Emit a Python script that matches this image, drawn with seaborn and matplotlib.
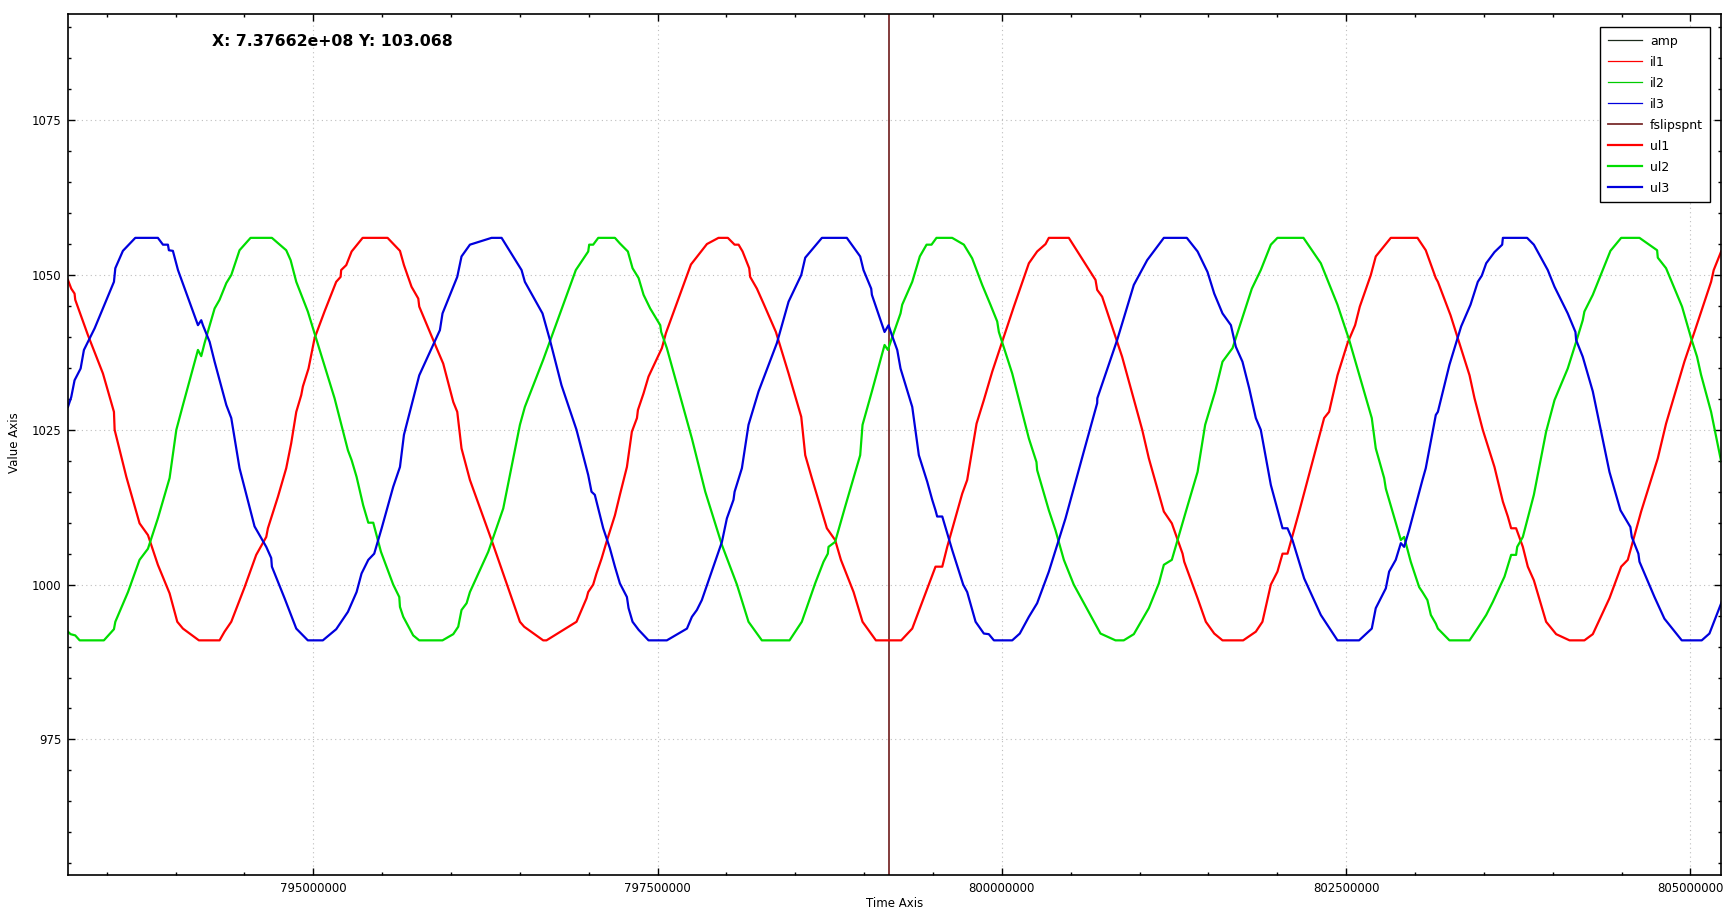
import numpy as np
import matplotlib
matplotlib.use("Agg")
import matplotlib.pyplot as plt
from matplotlib import font_manager
from matplotlib.ticker import MultipleLocator, StrMethodFormatter
import seaborn as sns

# time values are in millions of axis units
ul1_t = np.array([
    793.218, 793.242, 793.266, 793.271, 793.363, 793.472, 793.552, 793.557, 793.642, 793.738,
    793.799, 793.823, 793.871, 793.956, 794.012, 794.053, 794.169, 794.319, 794.355, 794.404,
    794.501, 794.585, 794.658, 794.670, 794.743, 794.803, 794.839, 794.876, 794.912, 794.924,
    794.965, 795.009, 795.081, 795.166, 795.198, 795.202, 795.239,
    795.278, 795.358, 795.539, 795.629, 795.658, 795.713, 795.762, 795.769, 795.895, 795.943,
    796.016, 796.045, 796.076, 796.137, 796.294, 796.500, 796.531, 796.669, 796.693, 796.911,
    796.984, 796.996, 797.032, 797.056, 797.093, 797.129, 797.190, 797.226,
    797.277, 797.313, 797.350, 797.357, 797.398, 797.434, 797.531, 797.560, 797.652, 797.742,
    797.858, 797.942, 798.010, 798.059, 798.088, 798.117, 798.165, 798.172, 798.221, 798.269,
    798.359, 798.451, 798.543, 798.572, 798.620, 798.729, 798.789, 798.831, 798.923, 798.988,
    799.085, 799.201,
    799.269, 799.349, 799.518, 799.567, 799.603, 799.712, 799.748, 799.816, 799.869, 799.930,
    799.990, 800.087, 800.196, 800.256, 800.317, 800.341, 800.486, 800.680, 800.692, 800.728,
    800.873, 801.019, 801.067, 801.176,
    801.234, 801.312, 801.324, 801.421, 801.481, 801.542, 801.602, 801.752, 801.844, 801.892,
    801.953, 802.001, 802.038, 802.074, 802.159, 802.340, 802.376, 802.437, 802.510, 802.565,
    802.599, 802.679, 802.715, 802.824, 803.018, 803.078, 803.151,
    803.166, 803.258, 803.396, 803.432, 803.492, 803.577, 803.638, 803.674, 803.698, 803.734,
    803.783, 803.819, 803.863, 803.952, 804.025, 804.122, 804.230, 804.291, 804.412, 804.497,
    804.545, 804.642, 804.763, 804.823, 804.956, 805.029, 805.150, 805.169, 805.223,
])
ul1_v = np.array([
    1049.2, 1047.8, 1047.0, 1046.0, 1040.3, 1034.1, 1027.9, 1025.0, 1017.4, 1009.9,
    1008.0, 1006.4, 1003.2, 998.6, 994.0, 992.9, 991.0, 991.0, 992.4, 994.0,
    999.6, 1004.8, 1007.7, 1009.1, 1014.2, 1018.8, 1022.8, 1027.9, 1030.6, 1032.0,
    1034.9, 1039.8, 1044.1, 1048.9, 1049.7, 1050.8, 1051.6,
    1053.8, 1056.0, 1056.0, 1053.9, 1051.6, 1048.1, 1046.2, 1044.9, 1038.2, 1035.7,
    1029.5, 1027.9, 1022.0, 1016.9, 1007.2, 994.0, 993.2, 991.0, 991.0, 994.0,
    997.8, 998.8, 1000.0, 1001.8, 1004.2, 1006.9, 1011.2, 1014.5,
    1019.0, 1024.7, 1026.9, 1028.2, 1030.9, 1033.6, 1038.2, 1040.6, 1046.2, 1051.7,
    1055.0, 1056.0, 1056.0, 1054.9, 1054.9, 1053.8, 1051.1, 1049.7, 1047.8, 1045.4,
    1040.8, 1034.1, 1027.1, 1020.9, 1017.2, 1009.1, 1007.2, 1004.0, 998.8, 994.0,
    991.0, 991.0,
    991.0, 992.9, 1002.9, 1002.9, 1006.1, 1014.7, 1016.9, 1026.0, 1029.8, 1034.4,
    1038.4, 1044.9, 1051.9, 1053.8, 1055.0, 1056.0, 1056.0, 1049.2, 1047.6, 1046.5,
    1036.8, 1025.0, 1020.4, 1011.8,
    1009.9, 1005.0, 1003.7, 997.8, 994.0, 992.1, 991.0, 991.0, 992.4, 994.0,
    1000.0, 1002.1, 1005.0, 1005.0, 1011.8, 1026.9, 1027.9, 1033.8, 1039.0, 1041.9,
    1044.9, 1050.0, 1053.0, 1056.0, 1056.0, 1054.0, 1049.5,
    1048.9, 1043.5, 1033.8, 1030.1, 1025.0, 1019.0, 1013.4, 1011.0, 1009.1, 1009.1,
    1006.1, 1002.9, 1000.7, 994.0, 992.0, 991.0, 991.0, 992.0, 997.8, 1002.9,
    1004.0, 1011.8, 1020.4, 1026.0, 1036.0, 1040.8, 1048.9, 1050.8, 1053.8,
])

ul2_t = np.array([
    793.218, 793.237, 793.271, 793.303, 793.479, 793.552, 793.562, 793.654, 793.738, 793.799,
    793.871, 793.956, 794.005, 794.053, 794.162, 794.186, 794.210, 794.283, 794.319, 794.368,
    794.404, 794.464, 794.544, 794.699, 794.803, 794.835, 794.876, 794.960, 795.057, 795.154,
    795.198, 795.251,
    795.278, 795.314, 795.362, 795.399, 795.435, 795.491, 795.580, 795.624, 795.629, 795.653,
    795.725, 795.769, 795.938, 796.016, 796.052, 796.076, 796.113, 796.137, 796.270, 796.379,
    796.500, 796.536, 796.669, 796.906, 796.996, 797.003, 797.032, 797.069, 797.190, 797.226,
    797.284, 797.318, 797.362, 797.398, 797.446, 797.519, 797.526, 797.567, 797.749, 797.846,
    797.967, 798.076, 798.160, 798.257, 798.458, 798.547, 798.644, 798.705, 798.736, 798.741,
    798.789, 798.862, 798.971, 798.988, 799.056, 799.148, 799.172, 799.201,
    799.264, 799.276, 799.349, 799.404, 799.453, 799.489, 799.525, 799.639, 799.724, 799.784,
    799.857, 799.917, 799.966, 799.978, 800.075, 800.196, 800.251, 800.256, 800.341, 800.389,
    800.450, 800.522, 800.716, 800.825, 800.885, 800.958, 801.067, 801.140, 801.176,
    801.234, 801.336, 801.421, 801.476, 801.549, 801.602, 801.675, 801.815, 801.880, 801.953,
    802.001, 802.190, 802.316, 802.437, 802.522, 802.686, 802.715, 802.776, 802.788, 802.897,
    802.921, 802.969, 803.030, 803.054, 803.090, 803.115, 803.151,
    803.166, 803.250, 803.396, 803.456, 803.517, 803.565, 803.650, 803.698, 803.734, 803.742,
    803.783, 803.863, 803.952, 804.013, 804.109, 804.170, 804.218, 804.230, 804.291, 804.419,
    804.497, 804.630, 804.758, 804.763, 804.823, 804.939, 805.005, 805.048, 805.077, 805.150,
    805.223,
])
ul2_v = np.array([
    992.4, 992.0, 991.8, 991.0, 991.0, 992.8, 994.0, 998.8, 1004.0, 1005.8,
    1010.7, 1017.2, 1025.0, 1029.0, 1037.9, 1036.9, 1039.0, 1044.6, 1046.0, 1048.7,
    1050.0, 1054.0, 1056.0, 1056.0, 1054.0, 1052.4, 1048.9, 1044.1, 1037.1, 1030.1,
    1026.3, 1021.7,
    1020.1, 1017.4, 1012.8, 1010.0, 1010.0, 1005.3, 1000.0, 998.0, 996.4, 994.8,
    991.8, 991.0, 991.0, 992.0, 993.2, 995.9, 997.0, 998.8, 1005.3, 1012.3,
    1025.8, 1028.7, 1036.3, 1050.8, 1053.8, 1054.9, 1054.9, 1056.0, 1056.0, 1055.1,
    1053.8, 1051.1, 1049.5, 1046.8, 1044.6, 1041.9, 1040.8, 1038.2, 1023.6, 1015.0,
    1006.4, 1000.0, 994.0, 991.0, 991.0, 994.0, 1000.2, 1003.7, 1005.0, 1006.1,
    1006.9, 1012.6, 1020.9, 1025.8, 1031.2, 1038.7, 1037.9, 1039.8,
    1043.8, 1045.2, 1048.9, 1053.0, 1054.9, 1054.9, 1056.0, 1056.0, 1054.9, 1052.7,
    1048.4, 1045.2, 1042.5, 1040.8, 1034.1, 1023.6, 1019.8, 1018.5, 1012.0, 1008.8,
    1004.0, 1000.0, 992.1, 991.0, 991.0, 992.0, 996.2, 1000.2, 1003.2,
    1004.0, 1011.8, 1018.2, 1025.8, 1031.2, 1036.0, 1038.2, 1047.8, 1050.8, 1054.9,
    1056.0, 1056.0, 1051.9, 1045.2, 1039.5, 1026.9, 1022.0, 1017.2, 1015.5, 1007.2,
    1007.7, 1003.7, 999.6, 998.8, 997.5, 995.1, 993.7,
    992.9, 991.0, 991.0, 993.0, 995.1, 997.2, 1001.3, 1004.8, 1004.8, 1006.1,
    1007.7, 1014.5, 1024.7, 1029.8, 1034.9, 1039.2, 1042.7, 1044.1, 1046.8, 1053.9,
    1056.0, 1056.0, 1054.0, 1052.8, 1051.1, 1044.9, 1039.8, 1036.8, 1033.9, 1027.9,
    1019.9,
])

ul3_t = np.array([
    793.218, 793.242, 793.266, 793.310, 793.334, 793.412, 793.472, 793.552, 793.562, 793.617,
    793.707, 793.871, 793.908, 793.944, 793.951, 793.980, 794.017, 794.162, 794.186, 794.198,
    794.247, 794.283, 794.368, 794.404, 794.464, 794.573, 794.658, 794.694, 794.699, 794.791,
    794.876, 794.960, 795.069, 795.166, 795.251,
    795.314, 795.350, 795.399, 795.442, 795.496, 795.580, 795.629, 795.658, 795.769, 795.919,
    795.938, 796.045, 796.076, 796.137, 796.294, 796.367, 796.512, 796.536, 796.664, 796.718,
    796.802, 796.911, 796.996, 797.020, 797.044, 797.105, 797.129, 797.153, 797.190, 797.226,
    797.277, 797.289, 797.318, 797.362, 797.434, 797.567, 797.713, 797.749, 797.785, 797.821,
    797.967, 798.003, 798.051, 798.059, 798.112, 798.160, 798.233, 798.366, 798.451, 798.543,
    798.572, 798.693, 798.874, 798.971, 798.995, 799.051, 799.056, 799.148, 799.177, 799.201,
    799.240, 799.264, 799.349, 799.397, 799.458, 799.494, 799.518, 799.530, 799.567, 799.639,
    799.719, 799.748, 799.809, 799.869, 799.905, 799.942, 800.075, 800.130, 800.196, 800.256,
    800.341, 800.462, 800.595, 800.692, 800.693, 800.837, 800.958, 801.055, 801.176,
    801.343, 801.421, 801.493, 801.542, 801.602, 801.663, 801.699, 801.747, 801.796, 801.844,
    801.880, 801.953, 802.038, 802.074, 802.110, 802.195, 802.316, 802.437, 802.594, 802.686,
    802.715, 802.788, 802.812, 802.860, 802.897, 802.921, 802.957, 803.054, 803.078, 803.151,
    803.166, 803.250, 803.335, 803.403, 803.456, 803.485, 803.517, 803.577, 803.633, 803.638,
    803.814, 803.863, 803.964, 804.013, 804.109, 804.165, 804.170, 804.218, 804.291, 804.412,
    804.492, 804.564, 804.574, 804.622, 804.630, 804.739, 804.811, 804.937, 805.082, 805.138,
    805.227,
])
ul3_v = np.array([
    1028.7, 1030.3, 1033.0, 1034.9, 1037.9, 1041.4, 1044.6, 1048.9, 1051.1, 1053.9,
    1056.0, 1056.0, 1054.9, 1054.9, 1054.0, 1053.9, 1050.8, 1041.9, 1042.7, 1041.9,
    1039.2, 1036.0, 1029.0, 1026.9, 1018.8, 1009.4, 1006.1, 1004.3, 1002.9, 997.8,
    992.9, 991.0, 991.0, 992.8, 995.6,
    998.8, 1001.8, 1004.0, 1005.0, 1009.1, 1015.8, 1019.0, 1024.2, 1033.8, 1041.1,
    1043.8, 1049.7, 1053.0, 1054.9, 1056.0, 1056.0, 1050.8, 1048.9, 1043.8, 1039.5,
    1032.2, 1025.0, 1017.7, 1015.0, 1014.5, 1009.1, 1007.5, 1005.9, 1002.9, 1000.2,
    998.0, 996.2, 994.0, 992.7, 991.0, 991.0, 992.9, 994.8, 995.9, 997.5,
    1006.9, 1010.7, 1013.7, 1015.0, 1018.8, 1025.8, 1031.2, 1039.0, 1045.7, 1050.0,
    1052.8, 1056.0, 1056.0, 1053.0, 1050.8, 1047.8, 1046.8, 1040.8, 1041.9, 1040.3,
    1037.9, 1034.9, 1028.7, 1020.9, 1016.6, 1013.7, 1012.0, 1011.0, 1011.0, 1005.6,
    1000.0, 998.8, 994.0, 992.1, 992.0, 991.0, 991.0, 992.1, 994.8, 997.0,
    1002.1, 1010.7, 1021.5, 1029.3, 1030.1, 1039.5, 1048.4, 1052.4, 1056.0,
    1056.0, 1053.8, 1050.5, 1047.0, 1043.8, 1041.9, 1038.4, 1036.0, 1031.7, 1026.9,
    1025.0, 1016.1, 1009.1, 1009.1, 1007.2, 1001.0, 995.1, 991.0, 991.0, 992.9,
    996.2, 999.4, 1002.1, 1004.0, 1006.7, 1006.1, 1008.8, 1016.9, 1018.8, 1027.4,
    1027.9, 1035.5, 1041.7, 1045.2, 1048.9, 1049.9, 1051.9, 1053.7, 1054.9, 1056.0,
    1056.0, 1054.9, 1050.8, 1048.1, 1043.8, 1040.8, 1039.5, 1036.8, 1031.2, 1018.2,
    1012.0, 1009.3, 1007.7, 1005.0, 1003.7, 998.0, 994.5, 991.0, 991.0, 992.1,
    997.2,
])

# series listed in the legend but with no points in view
amp_t, amp_v = [], []
il1_t, il1_v = [], []
il2_t, il2_v = [], []
il3_t, il3_v = [], []
fslipspnt_t = 799.179

cursor_text = "X: 7.37662e+08 Y: 103.068"
x_ticks = [795.0, 797.5, 800.0, 802.5, 805.0]
y_ticks = [975, 1000, 1025, 1050, 1075]


def plot_signals():
    names = {f.name for f in font_manager.fontManager.ttflist}
    if "Liberation Sans Narrow" in names:
        x_font, x_size = "Liberation Sans Narrow", 11.5
    else:
        x_font, x_size = "DejaVu Sans", 8.5

    fig = plt.figure(figsize=(17.36, 9.18), dpi=100)
    ax = fig.add_axes([0.0393, 0.0468, 0.9523, 0.9376])

    ax.plot(amp_t, amp_v, color="#1c2a1c", lw=0.9, label="amp")
    ax.plot(il1_t, il1_v, color="#ff0000", lw=0.9, label="il1")
    ax.plot(il2_t, il2_v, color="#00cc00", lw=0.9, label="il2")
    ax.plot(il3_t, il3_v, color="#0000dd", lw=0.9, label="il3")
    ax.axvline(fslipspnt_t * 1e6, color="#7a2c2c", lw=1.3, label="fslipspnt")

    sns.lineplot(x=ul1_t * 1e6, y=ul1_v, color="#ff0000", lw=1.6, sort=False,
                 estimator=None, ax=ax, label="ul1")
    sns.lineplot(x=ul2_t * 1e6, y=ul2_v, color="#00dd00", lw=1.6, sort=False,
                 estimator=None, ax=ax, label="ul2")
    sns.lineplot(x=ul3_t * 1e6, y=ul3_v, color="#0000dd", lw=1.6, sort=False,
                 estimator=None, ax=ax, label="ul3")

    ax.set_xlim(793.22e6, 805.225e6)
    ax.set_ylim(953.1, 1092.1)
    ax.set_xticks([t * 1e6 for t in x_ticks])
    ax.xaxis.set_major_formatter(StrMethodFormatter("{x:.0f}"))
    ax.xaxis.set_minor_locator(MultipleLocator(0.5e6))
    ax.set_yticks(y_ticks)
    ax.yaxis.set_minor_locator(MultipleLocator(5))

    ax.grid(True, which="major", ls=(0, (1, 3)), color="#bdbdbd", lw=0.8)
    ax.tick_params(which="both", direction="in", top=True, right=True, width=1.0, color="black")
    ax.tick_params(which="major", length=5, pad=5)
    ax.tick_params(which="minor", length=2.5)
    ax.tick_params(axis="y", labelsize=8.5)
    for lab in ax.get_xticklabels():
        lab.set_fontfamily(x_font)
        lab.set_fontsize(x_size)
    for sp in ax.spines.values():
        sp.set_linewidth(1.2)
        sp.set_color("black")

    ax.set_xlabel("Time Axis", fontfamily=x_font, fontsize=x_size, va="center")
    ax.xaxis.set_label_coords(0.5, -0.0325)
    ax.set_ylabel("Value Axis", fontsize=8.5, va="center")
    ax.yaxis.set_label_coords(-0.0328, 0.502)

    ax.text(0.0869, 0.968, cursor_text, transform=ax.transAxes, fontsize=11.3,
            fontweight="bold", ha="left", va="center")

    leg = ax.legend(loc="upper right", bbox_to_anchor=(0.9933, 0.9849), borderaxespad=0,
                    fontsize=9, handlelength=2.75, handletextpad=0.6, labelspacing=0.64,
                    borderpad=0.6, fancybox=False, framealpha=1, edgecolor="black")
    leg.get_frame().set_linewidth(1.0)

    fig.savefig("out.png", dpi=100)
    plt.close(fig)


if __name__ == "__main__":
    plot_signals()
